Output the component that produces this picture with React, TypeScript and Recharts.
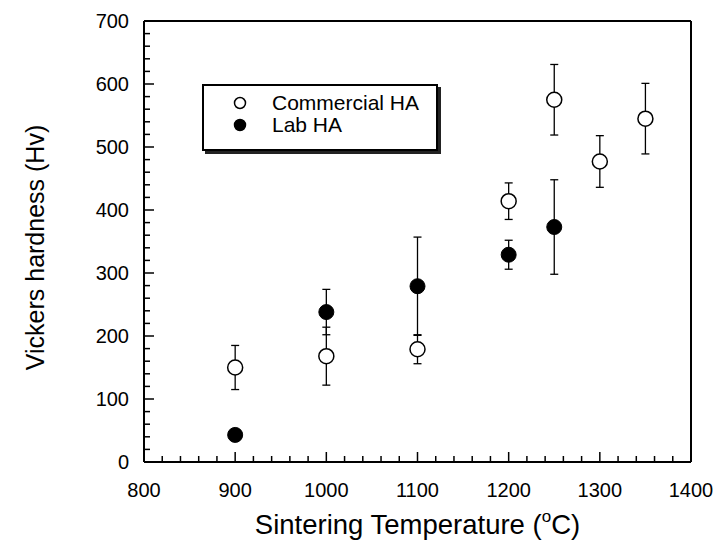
import React from 'react'
import { ScatterChart, Scatter, XAxis, YAxis, ErrorBar, Legend } from 'recharts'

// sintering temperature (°C) and Vickers hardness (Hv) with ± error
const commercialTemps = [900, 1000, 1100, 1200, 1250, 1300, 1350]
const commercialHv = [150, 168, 179, 414, 575, 477, 545]
const commercialErr = [35, 46, 23, 29, 56, 41, 56]

const labTemps = [900, 1000, 1100, 1200, 1250]
const labHv = [43, 238, 279, 329, 373]
const labErr = [0, 36, 78, 23, 75]

const seriesNames = ['Commercial HA', 'Lab HA']

const xMajor = [800, 900, 1000, 1100, 1200, 1300, 1400]
const yMajor = [0, 100, 200, 300, 400, 500, 600, 700]

const steps = (from: number, to: number, step: number) => {
  const out: number[] = []
  for (let v = from; v <= to; v += step) out.push(v)
  return out
}
const xMinor = steps(800, 1400, 20)
const yMinor = steps(0, 700, 20)

const commercialData = commercialTemps.map((t, i) => ({ t, v: commercialHv[i], e: commercialErr[i] }))
const labData = labTemps.map((t, i) => ({ t, v: labHv[i], e: labErr[i] }))

const FONT = '"Liberation Sans", Arial, Helvetica, sans-serif'

const makeTick = (side: 'bottom' | 'top' | 'left' | 'right', majors: number[], labels: boolean) =>
  (props: any) => {
    const { x, y, payload } = props
    const v = payload.value
    const major = majors.includes(v)
    const len = major ? 10 : 6
    let x2 = x
    let y2 = y
    if (side === 'bottom') y2 = y - len
    else if (side === 'top') y2 = y + len
    else if (side === 'left') x2 = x + len
    else x2 = x - len
    let label = null
    if (labels && major) {
      if (side === 'bottom')
        label = <text x={x} y={y + 35} textAnchor="middle" fontSize={20} fontFamily={FONT} fill="#000" stroke="none">{v}</text>
      else
        label = <text x={x - 15} y={y + 7} textAnchor="end" fontSize={20} fontFamily={FONT} fill="#000" stroke="none">{v}</text>
    }
    return (
      <g>
        <line x1={x} y1={y} x2={x2} y2={y2} stroke="#000" strokeWidth={1.5} />
        {label}
      </g>
    )
  }

const XTitle = (props: any) => {
  const { x, y, width } = props.viewBox
  return (
    <text x={x + width / 2} y={y + 72} textAnchor="middle" fontSize={27.5} fontFamily={FONT} fill="#000">
      Sintering Temperature (<tspan fontSize={17} dy={-12}>o</tspan><tspan dy={12}>C)</tspan>
    </text>
  )
}

const YTitle = (props: any) => {
  const { y, height } = props.viewBox
  const cx = 44
  const cy = y + height / 2 + 6
  return (
    <text x={cx} y={cy} transform={`rotate(-90 ${cx} ${cy})`} textAnchor="middle" fontSize={25} fontFamily={FONT} fill="#000">
      Vickers hardness (Hv)
    </text>
  )
}

const LegendBox = () => (
  <div
    style={{
      width: 232,
      height: 57,
      border: '2px solid #000',
      boxShadow: '3px 3px 0 #222',
      background: '#fff',
      fontFamily: FONT,
      fontSize: 21,
      color: '#000',
      paddingTop: 6,
      boxSizing: 'content-box',
    }}
  >
    {seriesNames.map((name, i) => (
      <div key={name} style={{ display: 'flex', alignItems: 'center', height: 22 }}>
        <svg width={68} height={22}>
          <circle cx={36} cy={11} r={5.5} fill={i === 0 ? '#fff' : '#000'} stroke="#000" strokeWidth={1.5} />
        </svg>
        <span style={{ lineHeight: '22px' }}>{name}</span>
      </div>
    ))}
  </div>
)

const openCircle = (p: any) => <circle cx={p.cx} cy={p.cy} r={7.5} fill="#fff" stroke="#000" strokeWidth={1.5} />
const filledCircle = (p: any) => <circle cx={p.cx} cy={p.cy} r={7.5} fill="#000" stroke="#000" strokeWidth={1} />

const frame = { stroke: '#000', strokeWidth: 2 }

export default function App() {
  return (
    <div style={{ position: 'absolute', left: 0, top: 0, width: 716, height: 543, background: '#fff' }}>
      <ScatterChart width={716} height={543} margin={{ top: 20, right: 24, bottom: 0, left: 0 }} style={{ fontFamily: FONT }}>
        <XAxis
          xAxisId="b"
          type="number"
          dataKey="t"
          orientation="bottom"
          domain={[800, 1400]}
          ticks={xMinor}
          interval={0}
          height={81}
          tickSize={0}
          tickMargin={0}
          tickLine={false}
          axisLine={frame}
          tick={makeTick('bottom', xMajor, true)}
          label={<XTitle />}
        />
        <XAxis
          xAxisId="t"
          type="number"
          dataKey="t"
          orientation="top"
          domain={[800, 1400]}
          ticks={xMinor}
          interval={0}
          height={1}
          tickSize={0}
          tickMargin={0}
          tickLine={false}
          axisLine={frame}
          tick={makeTick('top', xMajor, false)}
        />
        <YAxis
          yAxisId="l"
          type="number"
          dataKey="v"
          orientation="left"
          domain={[0, 700]}
          ticks={yMinor}
          interval={0}
          width={144}
          tickSize={0}
          tickMargin={0}
          tickLine={false}
          axisLine={frame}
          tick={makeTick('left', yMajor, true)}
          label={<YTitle />}
        />
        <YAxis
          yAxisId="r"
          type="number"
          dataKey="v"
          orientation="right"
          domain={[0, 700]}
          ticks={yMinor}
          interval={0}
          width={1}
          tickSize={0}
          tickMargin={0}
          tickLine={false}
          axisLine={frame}
          tick={makeTick('right', yMajor, false)}
        />
        <Legend
          layout="vertical"
          align="center"
          verticalAlign="middle"
          wrapperStyle={{ left: 202, top: 84, width: 'auto' }}
          content={() => <LegendBox />}
        />
        <Scatter
          name={seriesNames[0]}
          data={commercialData}
          xAxisId="b"
          yAxisId="l"
          shape={openCircle}
          isAnimationActive={false}
        >
          <ErrorBar dataKey="e" direction="y" width={4} stroke="#000" strokeWidth={1.3} />
        </Scatter>
        <Scatter
          name={seriesNames[1]}
          data={labData}
          xAxisId="b"
          yAxisId="l"
          shape={filledCircle}
          isAnimationActive={false}
        >
          <ErrorBar dataKey="e" direction="y" width={4} stroke="#000" strokeWidth={1.3} />
        </Scatter>
      </ScatterChart>
    </div>
  )
}
